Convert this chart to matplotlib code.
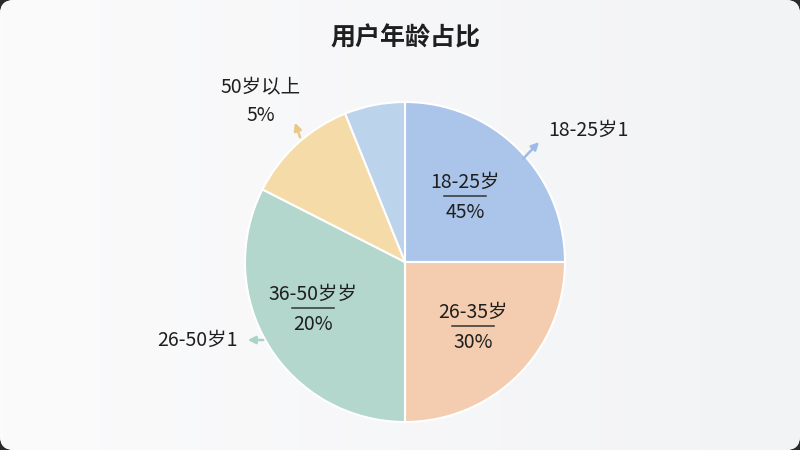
import matplotlib
matplotlib.use("Agg")
import matplotlib.pyplot as plt
from matplotlib.patches import FancyBboxPatch
import numpy as np

plt.rcParams["font.family"] = ["Noto Sans CJK SC", "DejaVu Sans"]

# 扇区（按图中角度估读，顺时针从12点开始）
categories = ["18-25岁", "26-35岁", "36-50岁岁", "50岁以上", "其他"]
shares = [25.0, 25.0, 32.5, 11.4, 6.1]
pct_labels = ["45%", "30%", "20%", "5%", ""]
colors = ["#abc5ea", "#f4cdb0", "#b3d7cd", "#f4dba8", "#bcd3ec"]
outer_labels = ["18-25岁1", "26-50岁1", "50岁以上\n5%"]
arrow_colors = ["#9dbbe6", "#a9d3c8", "#e9c98a"]

W, H = 800, 450
fig = plt.figure(figsize=(8, 4.5), dpi=100)
fig.patch.set_facecolor("#2b2b2b")
ax = fig.add_axes([0, 0, 1, 1])
ax.set_xlim(0, W)
ax.set_ylim(0, H)
ax.set_aspect("equal")
ax.axis("off")

# 卡片背景
card = FancyBboxPatch((0, 0), W, H, boxstyle="round,pad=0,rounding_size=14",
                      facecolor="#f7f8fa", edgecolor="none", zorder=0)
ax.add_patch(card)
grad = np.linspace(0, 1, 256).reshape(1, -1)
img = ax.imshow(grad, extent=(0, W, 0, H), cmap=matplotlib.colors.LinearSegmentedColormap.from_list(
    "bg", ["#fbfbfc", "#f2f3f5"]), aspect="auto", zorder=0.5)
img.set_clip_path(card)

cx, cy, r = 405, 450 - 262, 160
wedges, _ = ax.pie(shares, colors=colors, startangle=90, counterclock=False,
                   center=(cx, cy), radius=r, frame=True,
                   wedgeprops=dict(edgecolor="white", linewidth=1.5))
for w in wedges:
    w.set_zorder(2)
ax.set_xlim(0, W)
ax.set_ylim(0, H)
ax.axis("off")

ax.text(cx, H - 38, "用户年龄占比", ha="center", va="center", fontsize=18,
        fontweight="bold", color="#1f1f1f", zorder=5)

LBL = dict(fontsize=14, color="#1f1f1f", fontweight="medium", zorder=5)


def inner_label(x, y, name, pct):
    ax.text(x, y + 15, name, ha="center", va="center", **LBL)
    ax.text(x, y - 15, pct, ha="center", va="center", **LBL)
    ax.plot([x - 21, x + 21], [y + 1, y + 1], color="#333333", lw=1.1, zorder=5)


inner_label(465, H - 197, categories[0], pct_labels[0])
inner_label(473, H - 327, categories[1], pct_labels[1])
inner_label(313, H - 309, categories[2], pct_labels[2])

# 外部标注
ax.annotate("", xy=(541, H - 140), xytext=(521, H - 161),
            arrowprops=dict(arrowstyle="-|>", color=arrow_colors[0], lw=1.8, mutation_scale=11), zorder=5)
ax.text(548, H - 130, outer_labels[0], ha="left", va="center", **LBL)

ax.annotate("", xy=(245, H - 340), xytext=(266, H - 340),
            arrowprops=dict(arrowstyle="-|>", color=arrow_colors[1], lw=1.8, mutation_scale=11), zorder=5)
ax.text(238, H - 340, outer_labels[1], ha="right", va="center", **LBL)

ax.annotate("", xy=(294, H - 120), xytext=(301, H - 140),
            arrowprops=dict(arrowstyle="-|>", color=arrow_colors[2], lw=1.8, mutation_scale=11), zorder=5)
ax.text(261, H - 102, outer_labels[2], ha="center", va="center", linespacing=1.4, **LBL)

fig.savefig("out.png", dpi=100, facecolor=fig.get_facecolor())
